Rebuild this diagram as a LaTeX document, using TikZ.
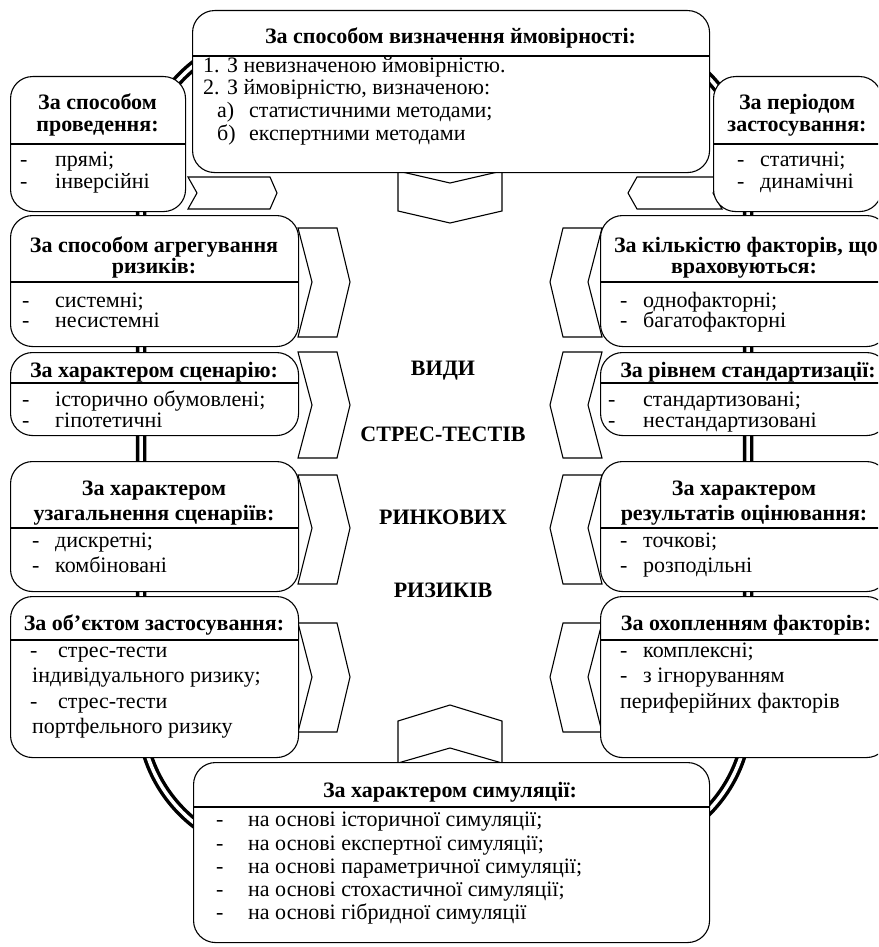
\documentclass[tikz,border=0pt]{standalone}
\usepackage{fontspec}
\setmainfont{Liberation Serif}
\begin{document}
\begin{tikzpicture}[x=1pt,y=-1pt,
  ring/.style={draw=black, line width=3.5pt, double=white, double distance=3.5pt},
  box/.style={draw=black, line width=1.1pt, fill=white, rounded corners=22pt, anchor=north west, inner sep=0pt},
  chev/.style={draw=black, line width=1.1pt, fill=white},
  sep/.style={draw=black, line width=1.1pt},
  tx/.style={inner sep=0pt, anchor=west, text height=15pt, text depth=4.5pt, font=\fontsize{22}{25}\selectfont},
  tt/.style={inner sep=0pt, anchor=center, text height=15pt, text depth=4.5pt, font=\fontsize{22}{25}\selectfont\bfseries}
]
\useasboundingbox (0,0) rectangle (878,947);
\clip (0,0) rectangle (878,947);
\fill[white] (0,0) rectangle (878,947);

% ring
\draw[ring, rounded corners=140pt] (141,35) rectangle (748,853);

% chevrons
\draw[chev] (188,177) -- (270,177) -- (277,193) -- (270,209) -- (188,209) -- (197,193) -- cycle;
\draw[chev] (722,177) -- (637,177) -- (628,193) -- (637,209) -- (722,209) -- (713,193) -- cycle;
\draw[chev] (398,171) -- (450,183) -- (502,171) -- (502,211) -- (450,223) -- (398,211) -- cycle;
\draw[chev] (398,763) -- (450,748) -- (502,763) -- (502,721) -- (450,705) -- (398,721) -- cycle;
\foreach \t/\m/\b in {228/282/337, 352/405/458, 475/528/584, 623/677/732}{
  \draw[chev] (298,\t) -- (337,\t) -- (350,\m) -- (337,\b) -- (298,\b) -- (312,\m) -- cycle;
  \draw[chev] (602,\t) -- (563,\t) -- (550,\m) -- (563,\b) -- (602,\b) -- (588,\m) -- cycle;
}

% top box
\node[box, minimum width=517pt, minimum height=162pt] (prob) at (192,10) {};
\draw[sep] (prob.west |- 0,56) -- (prob.east |- 0,56);
\node[tt] (probT) at (450.5,38) {За способом визначення ймовірності:};
\node[tx] (prob1) at (203,67) {1. З невизначеною ймовірністю.};
\node[tx] (prob2) at (203,89) {2. З ймовірністю, визначеною:};
\node[tx] (prob3a) at (217,112) {а)};
\node[tx] (prob3) at (249,112) {статистичними методами;};
\node[tx] (prob4a) at (217,135) {б)};
\node[tx] (prob4) at (249,135) {експертними методами};

% top-left box
\node[box, minimum width=175pt, minimum height=135pt] (prov) at (10,76) {};
\draw[sep] (prov.west |- 0,144) -- (prov.east |- 0,144);
\node[tt] (provT1) at (97.5,104) {За способом};
\node[tt] (provT2) at (97.5,126) {проведення:};
\node[tx] (provd1) at (20,161) {-};
\node[tx] (prov1) at (55,161) {прямі;};
\node[tx] (provd2) at (20,183) {-};
\node[tx] (prov2) at (55,183) {інверсійні};

% top-right box
\node[box, minimum width=168pt, minimum height=135pt] (per) at (713,76) {};
\draw[sep] (per.west |- 0,144) -- (per.east |- 0,144);
\node[tt] (perT1) at (797,104) {За періодом};
\node[tt] (perT2) at (797,126) {застосування:};
\node[tx] (perd1) at (737,161) {-};
\node[tx] (per1) at (760,161) {статичні;};
\node[tx] (perd2) at (737,183) {-};
\node[tx] (per2) at (760,183) {динамічні};

% left column
\node[box, minimum width=288pt, minimum height=131pt] (agg) at (10,215) {};
\draw[sep] (agg.west |- 0,282) -- (agg.east |- 0,282);
\node[tt] (aggT1) at (154,247) {За способом агрегування};
\node[tt] (aggT2) at (154,268) {ризиків:};
\node[tx] (aggd1) at (22,302) {-};
\node[tx] (agg1) at (55,302) {системні;};
\node[tx] (aggd2) at (22,322) {-};
\node[tx] (agg2) at (55,322) {несистемні};

\node[box, minimum width=288pt, minimum height=83pt] (scen) at (10,352) {};
\draw[sep] (scen.west |- 0,383) -- (scen.east |- 0,383);
\node[tt] (scenT) at (154,372) {За характером сценарію:};
\node[tx] (scend1) at (22,401) {-};
\node[tx] (scen1) at (55,401) {історично обумовлені;};
\node[tx] (scend2) at (22,422) {-};
\node[tx] (scen2) at (55,422) {гіпотетичні};

\node[box, minimum width=288pt, minimum height=130pt] (gen) at (10,461) {};
\draw[sep] (gen.west |- 0,528) -- (gen.east |- 0,528);
\node[tt] (genT1) at (154,490) {За характером};
\node[tt] (genT2) at (154,515) {узагальнення сценаріїв:};
\node[tx] (gend1) at (32,542) {-};
\node[tx] (gen1) at (55,542) {дискретні;};
\node[tx] (gend2) at (32,567) {-};
\node[tx] (gen2) at (55,567) {комбіновані};

\node[box, minimum width=288pt, minimum height=161pt] (obj) at (10,596) {};
\draw[sep] (obj.west |- 0,640) -- (obj.east |- 0,640);
\node[tt] (objT) at (154,625) {За об’єктом застосування:};
\node[tx] (objd1) at (30,652) {-};
\node[tx] (obj1) at (58,652) {стрес-тести};
\node[tx] (obj2) at (32,677) {індивідуального ризику;};
\node[tx] (objd3) at (30,703) {-};
\node[tx] (obj3) at (58,703) {стрес-тести};
\node[tx] (obj4) at (32,728) {портфельного ризику};

% right column
\node[box, minimum width=288pt, minimum height=131pt] (cnt) at (600,215) {};
\draw[sep] (cnt.west |- 0,282) -- (cnt.east |- 0,282);
\node[tt] (cntT1) at (746,247) {За кількістю факторів, що};
\node[tt] (cntT2) at (744,268) {враховуються:};
\node[tx] (cntd1) at (620,302) {-};
\node[tx] (cnt1) at (643,302) {однофакторні;};
\node[tx] (cntd2) at (620,322) {-};
\node[tx] (cnt2) at (643,322) {багатофакторні};

\node[box, minimum width=288pt, minimum height=83pt] (std) at (600,352) {};
\draw[sep] (std.west |- 0,383) -- (std.east |- 0,383);
\node[tt] (stdT) at (748,372) {За рівнем стандартизації:};
\node[tx] (stdd1) at (608,401) {-};
\node[tx] (std1) at (643,401) {стандартизовані;};
\node[tx] (stdd2) at (608,422) {-};
\node[tx] (std2) at (643,422) {нестандартизовані};

\node[box, minimum width=288pt, minimum height=130pt] (res) at (600,461) {};
\draw[sep] (res.west |- 0,528) -- (res.east |- 0,528);
\node[tt] (resT1) at (744,490) {За характером};
\node[tt] (resT2) at (744,515) {результатів оцінювання:};
\node[tx] (resd1) at (620,542) {-};
\node[tx] (res1) at (643,542) {точкові;};
\node[tx] (resd2) at (620,567) {-};
\node[tx] (res2) at (643,567) {розподільні};

\node[box, minimum width=288pt, minimum height=161pt] (cov) at (600,596) {};
\draw[sep] (cov.west |- 0,640) -- (cov.east |- 0,640);
\node[tt] (covT) at (746,625) {За охопленням факторів:};
\node[tx] (covd1) at (620,652) {-};
\node[tx] (cov1) at (643,652) {комплексні;};
\node[tx] (covd2) at (620,677) {-};
\node[tx] (cov2) at (643,677) {з ігноруванням};
\node[tx] (cov3) at (620,703) {периферійних факторів};

% bottom box
\node[box, minimum width=516pt, minimum height=180pt] (sim) at (193,762) {};
\draw[sep] (sim.west |- 0,807) -- (sim.east |- 0,807);
\node[tt] (simT) at (450,792) {За характером симуляції:};
\foreach \y/\s [count=\i] in {821/на основі історичної симуляції;, 845/на основі експертної симуляції;, 868/на основі параметричної симуляції;, 891/на основі стохастичної симуляції;, 914/на основі гібридної симуляції}{
  \node[tx] (simd\i) at (216,\y) {-};
  \node[tx] (sim\i) at (248,\y) {\s};
}

% centre title
\node[tt] (c1) at (443,370) {ВИДИ};
\node[tt] (c2) at (443,436) {СТРЕС-ТЕСТІВ};
\node[tt] (c3) at (443,519) {РИНКОВИХ};
\node[tt] (c4) at (443,592) {РИЗИКІВ};
\end{tikzpicture}
\end{document}
